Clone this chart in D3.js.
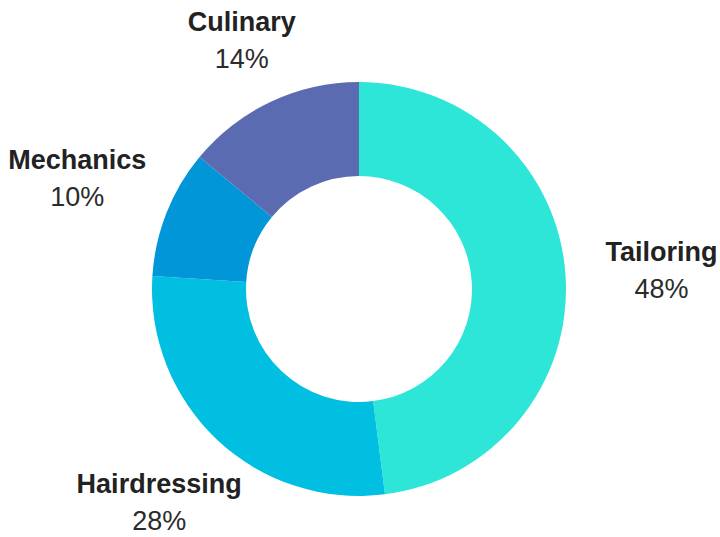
<!DOCTYPE html>
<html>
<head>
<meta charset="utf-8">
<script src="https://cdn.jsdelivr.net/npm/d3@7"></script>
<style>
  html, body { margin: 0; padding: 0; background: #fff; }
  svg { display: block; }
  text { font-family: "Liberation Sans", Arial, sans-serif; }
</style>
</head>
<body>
<svg id="chart" width="720" height="537"></svg>
<script>
// Data
const categories = ["Tailoring", "Hairdressing", "Mechanics", "Culinary"];
const values = [48, 28, 10, 14];
const colors = ["#2ee6d8", "#00bfe0", "#0096d8", "#5b6bb1"];

const W = 720, H = 537;
const cx = 359, cy = 289;
const outerR = 207, innerR = 113;
const labelR = 303;
const fontSize = 27, lineGap = 37;
const topMargin = 11.5, bottomBase = 530;

const svg = d3.select("#chart");
const g = svg.append("g").attr("transform", `translate(${cx},${cy})`);

const data = categories.map((c, i) => ({ name: c, value: values[i], color: colors[i] }));
const total = d3.sum(values);

const pie = d3.pie().value(d => d.value).sort(null);
const arc = d3.arc().innerRadius(innerR).outerRadius(outerR);
const arcs = pie(data);

g.selectAll("path.slice")
  .data(arcs)
  .join("path")
  .attr("class", "slice")
  .attr("d", arc)
  .attr("fill", d => d.data.color);

// Labels
const capH = fontSize * 0.716;
const blockH = capH + lineGap;
arcs.forEach(d => {
  const a = (d.startAngle + d.endAngle) / 2;
  const c = Math.cos(a);
  let r = labelR;
  let y = -r * c;
  // keep the label block inside the picture, sliding it in along its ray
  if (cy + y - blockH / 2 < topMargin && c > 0) {
    r = (cy - topMargin - blockH / 2) / c;
  } else if (cy + y + blockH / 2 > bottomBase && c < 0) {
    r = (bottomBase - blockH / 2 - cy) / -c;
  }
  y = -r * c;
  const x = r * Math.sin(a);
  const nameBase = y - blockH / 2 + capH;
  const pctBase = nameBase + lineGap;
  const lab = g.append("g");
  lab.append("text")
    .attr("x", x).attr("y", nameBase)
    .attr("text-anchor", "middle")
    .attr("font-size", fontSize)
    .attr("font-weight", "bold")
    .attr("fill", "#222")
    .text(d.data.name);
  lab.append("text")
    .attr("x", x).attr("y", pctBase)
    .attr("text-anchor", "middle")
    .attr("font-size", fontSize)
    .attr("fill", "#2b2b2b")
    .text(Math.round(d.data.value / total * 100) + "%");
});
</script>
</body>
</html>
